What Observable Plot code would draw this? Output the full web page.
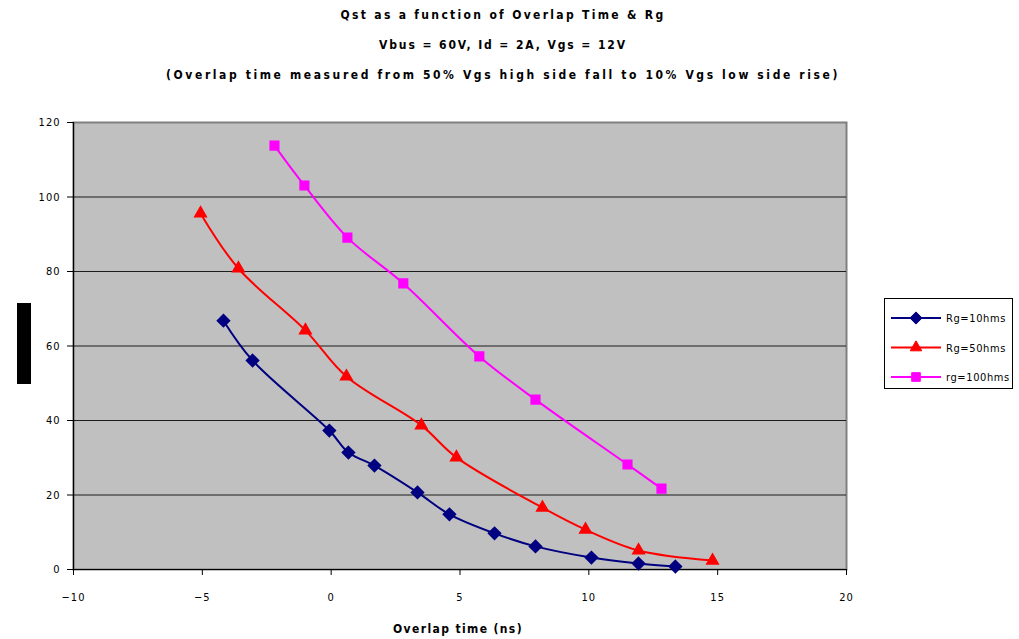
<!DOCTYPE html>
<html>
<head>
<meta charset="utf-8">
<script src="https://cdn.jsdelivr.net/npm/d3@7"></script>
<script src="https://cdn.jsdelivr.net/npm/@observablehq/plot@0.6"></script>
<style>
  body { margin: 0; background: #fff; }
  #wrap { position: relative; width: 1019px; height: 639px; overflow: hidden; font-family: "DejaVu Sans", sans-serif; font-stretch: condensed; }
  .title { position: absolute; left: 0; width: 1006px; text-align: center; font-weight: bold; font-size: 12px; color: #000; white-space: nowrap; }
  #xlab { position: absolute; left: 0; top: 622px; width: 916px; text-align: center; font-weight: bold; font-size: 12px; white-space: nowrap; }
  #chart { position: absolute; left: 0; top: 110px; }
  #legend { position: absolute; left: 884px; top: 298px; width: 129px; height: 91px; border: 1px solid #000; background: #fff; box-sizing: border-box; }
  #legend svg { display: block; }
  #blk { position: absolute; left: 17px; top: 303px; width: 14px; height: 81px; background: #000; }
</style>
</head>
<body>
<div id="wrap">
  <div class="title" id="t1" style="top:8px">Qst as a function of Overlap Time &amp; Rg</div>
  <div class="title" id="t2" style="top:38px">Vbus = 60V, Id = 2A, Vgs = 12V</div>
  <div class="title" id="t3" style="top:68px">(Overlap time measured from 50% Vgs high side fall to 10% Vgs low side rise)</div>
  <div id="blk"></div>
  <div id="chart"></div>
  <div id="xlab">Overlap time (ns)</div>
  <div id="legend"></div>
</div>
<script>
// Series names
const seriesNames = ["Rg=10hms", "Rg=50hms", "rg=100hms"];
const seriesColors = ["#000080", "#ff0000", "#ff00ff"];
const seriesSymbols = ["diamond2", "triangle2", "square2"];

// Rg = 1 ohm
const overlap1 = [-4.18, -3.05, -0.07, 0.67, 1.68, 3.35, 4.59, 6.34, 7.93, 10.1, 11.93, 13.36];
const qst1 = [66.8, 56.1, 37.3, 31.4, 27.9, 20.7, 14.8, 9.7, 6.2, 3.2, 1.6, 0.8];

// Rg = 5 ohm
const overlap5 = [-5.07, -3.6, -1.0, 0.59, 3.5, 4.86, 8.2, 9.87, 11.93, 14.8];
const qst5 = [95.6, 80.8, 64.2, 51.8, 38.7, 30.1, 16.6, 10.7, 5.1, 2.4];

// rg = 10 ohm
const overlap10 = [-2.2, -1.04, 0.63, 2.8, 5.75, 7.93, 11.5, 12.82];
const qst10 = [113.8, 103.1, 89.1, 76.8, 57.2, 45.6, 28.2, 21.7];

const xTicks = [-10, -5, 0, 5, 10, 15, 20];
const yTicks = [0, 20, 40, 60, 80, 100, 120];

// fit text widths to the reference's spread-out lettering
function fitWidth(id, target) {
  const el = document.getElementById(id);
  const full = el.style.width;
  el.style.letterSpacing = "0px";
  el.style.display = "inline-block";
  el.style.width = "auto";
  const w = el.getBoundingClientRect().width;
  const n = el.textContent.length;
  el.style.letterSpacing = ((target - w) / n) + "px";
  el.style.display = "block";
  el.style.width = full;
}
fitWidth("t1", 325);
fitWidth("t2", 248);
fitWidth("t3", 674);
fitWidth("xlab", 130);

const rows = [];
[[overlap1, qst1], [overlap5, qst5], [overlap10, qst10]].forEach(([xs, ys], i) => {
  xs.forEach((x, j) => rows.push({series: seriesNames[i], x, y: ys[j]}));
});

const font = '"DejaVu Sans", sans-serif';

const chart = Plot.plot({
  width: 1019,
  height: 529,
  marginLeft: 73,
  marginRight: 173,
  marginTop: 12,
  marginBottom: 70,
  style: {fontFamily: font, fontStretch: "condensed", fontSize: "11px", color: "#000", background: "transparent", letterSpacing: "1px"},
  x: {domain: [-10, 20], ticks: xTicks, label: null},
  y: {domain: [0, 120], ticks: yTicks, label: null},
  color: {domain: seriesNames, range: seriesColors},
  symbol: {domain: seriesNames, range: seriesSymbols},
  marks: [
    Plot.frame({fill: "#c0c0c0", stroke: "#808080", strokeWidth: 2}),
    Plot.gridY(yTicks.filter(d => d > 0 && d < 120), {stroke: "#000", strokeOpacity: 0.85, strokeWidth: 1.2}),
    Plot.ruleX([-10], {stroke: "#000", strokeWidth: 1.2}),
    Plot.ruleY([0], {stroke: "#000", strokeWidth: 1.2}),
    Plot.axisX(xTicks, {tickSize: 6, tickPadding: 18, fontSize: 11}),
    Plot.axisY(yTicks, {tickSize: 6, tickPadding: 7, fontSize: 11}),
    Plot.line(rows, {x: "x", y: "y", z: "series", stroke: "series", strokeWidth: 2, curve: "catmull-rom"}),
    Plot.dot(rows, {x: "x", y: "y", symbol: "series", fill: "series", stroke: "series", r: 5.5})
  ]
});
document.getElementById("chart").appendChild(chart);

// Legend
const leg = d3.select("#legend").append("svg").attr("width", 127).attr("height", 89);
seriesNames.forEach((name, i) => {
  const y = 19 + i * 29.5;
  leg.append("line").attr("x1", 6).attr("x2", 56).attr("y1", y).attr("y2", y)
    .attr("stroke", seriesColors[i]).attr("stroke-width", 2);
  const sym = {diamond2: d3.symbolDiamond2, triangle2: d3.symbolTriangle2, square2: d3.symbolSquare2}[seriesSymbols[i]];
  leg.append("path").attr("d", d3.symbol(sym, Math.PI * 5.5 * 5.5)())
    .attr("transform", `translate(31,${y})`).attr("fill", seriesColors[i]).attr("stroke", seriesColors[i]);
  leg.append("text").attr("x", 61).attr("y", y + 4).text(name)
    .attr("font-family", font).attr("font-stretch", "condensed").attr("font-size", 11).attr("letter-spacing", 0.6);
});
</script>
</body>
</html>
